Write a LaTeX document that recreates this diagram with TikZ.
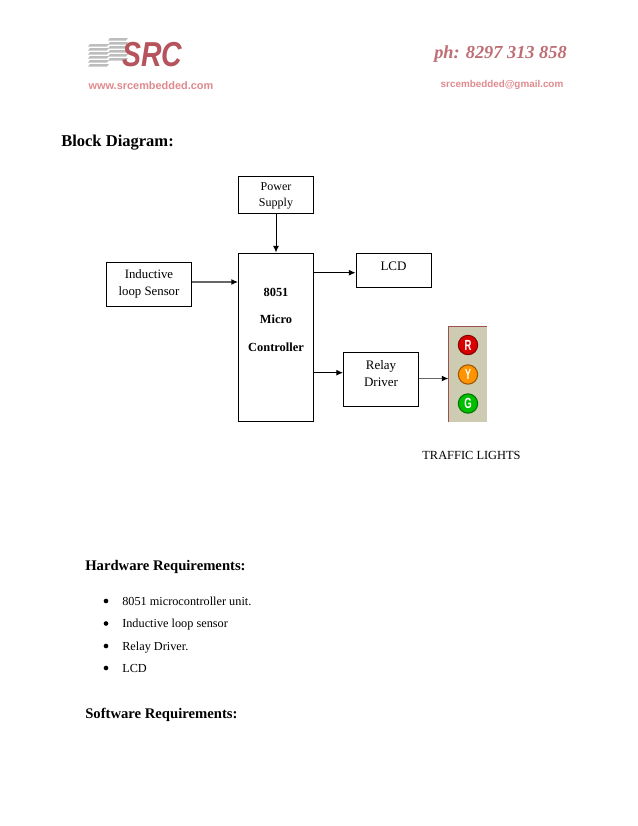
\documentclass[tikz,border=0pt]{standalone}
\usepackage{fontspec}
\usepackage{graphicx}
\setmainfont{Liberation Serif}
\newfontfamily\hdsans{Liberation Sans}
\usetikzlibrary{arrows.meta,calc}
\definecolor{srcred}{HTML}{B5545C}
\definecolor{srcpink}{HTML}{E08A8E}
\definecolor{srcgray}{HTML}{BDBDBD}
\definecolor{panelbg}{HTML}{CDCBB2}
\definecolor{panelrim}{HTML}{A05050}
\tikzset{
  x=0.75pt,y=-0.75pt,
  blockbox/.style={draw=black,line width=0.75pt,fill=white,inner sep=0pt},
  boxtext/.style={anchor=base,inner sep=0pt,font=\fontsize{9}{11}\selectfont},
  sensortext/.style={anchor=base,inner sep=0pt,font=\fontsize{9.6}{11}\selectfont},
  bigtext/.style={anchor=base,inner sep=0pt,font=\fontsize{9.75}{11}\selectfont},
  mcutext/.style={anchor=base,inner sep=0pt,font=\fontsize{9.3}{11}\selectfont\bfseries},
  conn/.style={draw=black,line width=0.7pt,-{Latex[length=5pt,width=4.5pt]}},
  connheavy/.style={draw=black!60,line width=1.1pt,-{Latex[length=5pt,width=4.5pt,black]}},
  heading/.style={anchor=base west,inner sep=0pt,font=\fontsize{12.4}{14}\selectfont\bfseries},
  subhead/.style={anchor=base west,inner sep=0pt,font=\fontsize{11}{13}\selectfont\bfseries},
  plain/.style={anchor=base west,inner sep=0pt,font=\fontsize{9.2}{11}\selectfont},
  bulletdot/.style={circle,fill=black,inner sep=0pt,minimum size=3.5pt},
  lamp/.style={circle,draw=#1!60!black,line width=0.8pt,fill=#1,minimum size=14.5pt,inner sep=0pt,text=white,font=\fontsize{11}{11}\selectfont\bfseries\hdsans},
}
\begin{document}
\begin{tikzpicture}
\useasboundingbox (0,0) rectangle (638,826);
\fill[white] (0,0) rectangle (638,826);
% letterhead logo
\foreach \yy in {44,48,52,56,60,64}{\fill[srcgray] (90,\yy) -- (109,\yy) -- (107,\yy+2.6) -- (88,\yy+2.6) -- cycle;}
\foreach \yy in {38,42,46,50,54,58}{\fill[srcgray] (110,\yy) -- (128,\yy) -- (126,\yy+2.6) -- (108,\yy+2.6) -- cycle;}
\node[anchor=center,inner sep=0pt,xscale=0.82,text=srcred,font=\fontsize{26}{26}\selectfont\bfseries\itshape\hdsans] (logo) at (152.5,55) {SRC};
\node[anchor=center,inner sep=0pt,text=srcpink,font=\fontsize{8.2}{9}\selectfont\bfseries\hdsans] (web) at (151,86) {www.srcembedded.com};
\node[anchor=base,inner sep=0pt,text=srcred!85!white,font=\fontsize{13.75}{15}\selectfont\bfseries\itshape] (phone) at (500.5,58) {ph: 8297 313 858};
\node[anchor=center,inner sep=0pt,text=srcpink,font=\fontsize{7.4}{8}\selectfont\bfseries\hdsans] (mail) at (502,85) {srcembedded@gmail.com};
% title
\node[heading] (title) at (61,146) {Block Diagram:};
% blocks
\node[blockbox,minimum width=56.25pt,minimum height=28pt] (power) at (276,195) {};
\node[boxtext] (powerA) at (276,190.7) {Power};
\node[boxtext] (powerB) at (276,206) {Supply};
\node[blockbox,minimum width=63.75pt,minimum height=33pt] (sensor) at (149,284.5) {};
\node[sensortext] (sensorA) at (149,278) {Inductive};
\node[sensortext] (sensorB) at (149,295) {loop Sensor};
\node[blockbox,minimum width=56.25pt,minimum height=126pt] (mcu) at (276,337) {};
\node[mcutext] (mcuA) at (276,296) {8051};
\node[mcutext] (mcuB) at (276,323) {Micro};
\node[mcutext] (mcuC) at (276,351) {Controller};
\node[blockbox,minimum width=56.25pt,minimum height=25.5pt] (lcd) at (393.5,270.3) {};
\node[bigtext] (lcdlabel) at (393.5,270) {LCD};
\node[blockbox,minimum width=56.25pt,minimum height=40.5pt] (relay) at (381,379) {};
\node[bigtext] (relayA) at (381,369.3) {Relay};
\node[bigtext] (relayB) at (381,386.7) {Driver};
% traffic light panel
\fill[panelbg] (448.5,326) rectangle (487,422);
\draw[panelrim,line width=0.7pt] (448.5,422) -- (448.5,326) -- (487,326);
\node[lamp=red!85!black] (r) at (468,345) {\scalebox{0.65}[1]{R}};
\node[lamp=orange!85!yellow] (y) at (468,374.5) {\scalebox{0.65}[1]{Y}};
\node[lamp=green!75!black] (g) at (468,403.5) {\scalebox{0.65}[1]{G}};
\coordinate (panel) at (448.5,378.5);
\node[anchor=base,inner sep=0pt,font=\fontsize{9.3}{11}\selectfont] (tl) at (471.5,459) {TRAFFIC LIGHTS};
% connectors
\draw[conn] (power.south) -- (mcu.north);
\coordinate (sensorout) at ($(sensor.east)+(0,-2.5)$);
\coordinate (lcdin) at ($(lcd.west)+(0,2.4)$);
\coordinate (relayin) at ($(relay.west)+(0,-6.3)$);
\draw[connheavy] (sensorout) -- (mcu.west |- sensorout);
\draw[conn] (mcu.east |- lcdin) -- (lcdin);
\draw[conn] (mcu.east |- relayin) -- (relayin);
\draw[connheavy] (relay.east |- panel) -- (panel);
% requirements
\node[subhead] (hw) at (85,570.5) {Hardware Requirements:};
\node[bulletdot] (b1) at (106,601) {};
\node[plain] (t1) at (122,605) {8051 microcontroller unit.};
\node[bulletdot] (b2) at (106,623.5) {};
\node[plain] (t2) at (122,627) {Inductive loop sensor};
\node[bulletdot] (b3) at (106,646) {};
\node[plain] (t3) at (122,650) {Relay Driver.};
\node[bulletdot] (b4) at (106,668) {};
\node[plain] (t4) at (122,672) {LCD};
\node[subhead] (sw) at (85,718) {Software Requirements:};
\end{tikzpicture}
\end{document}
